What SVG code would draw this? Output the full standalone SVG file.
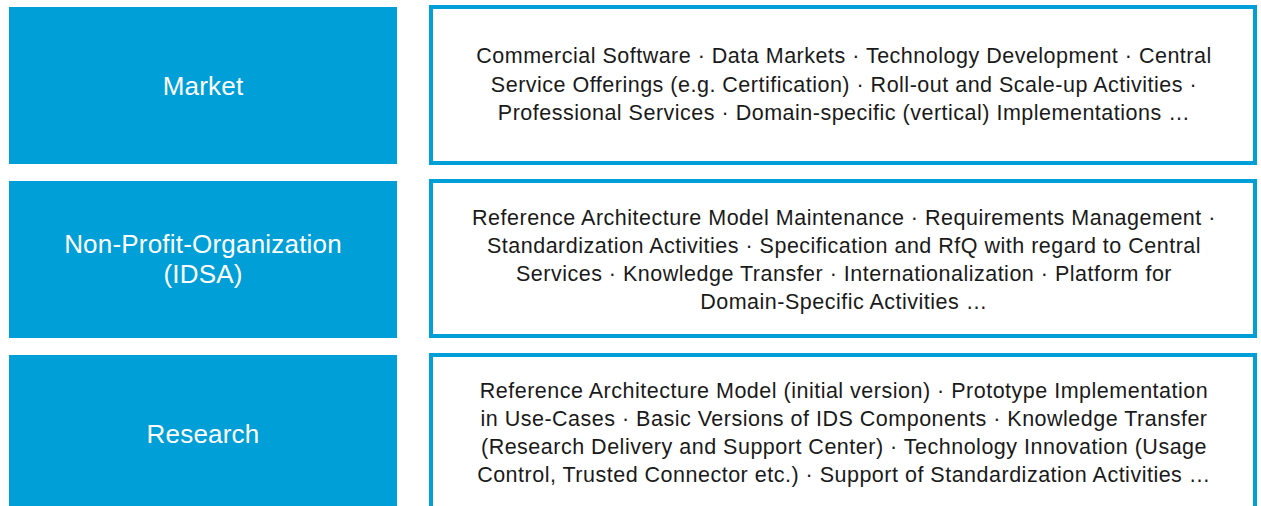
<svg xmlns="http://www.w3.org/2000/svg" width="1261" height="506" viewBox="0 0 1261 506">
<style>
.lbl{fill:#009fd8}
.box{fill:#fff;stroke:#009fd8;stroke-width:4}
.lt{font-family:"Liberation Sans",Arial,sans-serif;font-size:26px;letter-spacing:0.2px;fill:#fff;text-anchor:middle}
.rt{font-family:"Liberation Sans",Arial,sans-serif;font-size:21.5px;letter-spacing:0.5px;fill:#1a1a1a;text-anchor:middle}
</style>
<rect width="1261" height="506" fill="#fff"/>
<g id="market">
<rect class="lbl" x="9" y="7" width="388" height="157"/>
<text class="lt" x="203" y="95">Market</text>
</g>
<g id="market-items">
<rect class="box" x="431" y="7" width="824" height="156"/>
<text class="rt"><tspan x="844" y="63">Commercial Software · Data Markets · Technology Development · Central</tspan><tspan x="844" y="91.5">Service Offerings (e.g. Certification) · Roll-out and Scale-up Activities ·</tspan><tspan x="844" y="120">Professional Services · Domain-specific (vertical) Implementations …</tspan></text>
</g>
<g id="npo">
<rect class="lbl" x="9" y="181" width="388" height="157"/>
<text class="lt"><tspan x="203" y="253">Non-Profit-Organization</tspan><tspan x="203" y="283">(IDSA)</tspan></text>
</g>
<g id="npo-items">
<rect class="box" x="431" y="181" width="824" height="155"/>
<text class="rt"><tspan x="844" y="225">Reference Architecture Model Maintenance · Requirements Management ·</tspan><tspan x="844" y="253">Standardization Activities · Specification and RfQ with regard to Central</tspan><tspan x="844" y="281">Services · Knowledge Transfer · Internationalization · Platform for</tspan><tspan x="844" y="308.5">Domain-Specific Activities …</tspan></text>
</g>
<g id="research">
<rect class="lbl" x="9" y="355" width="388" height="160"/>
<text class="lt" x="203" y="443">Research</text>
</g>
<g id="research-items">
<rect class="box" x="431" y="355" width="824" height="160"/>
<text class="rt"><tspan x="844" y="398">Reference Architecture Model (initial version) · Prototype Implementation</tspan><tspan x="844" y="426">in Use-Cases · Basic Versions of IDS Components · Knowledge Transfer</tspan><tspan x="844" y="454">(Research Delivery and Support Center) · Technology Innovation (Usage</tspan><tspan x="844" y="482">Control, Trusted Connector etc.) · Support of Standardization Activities …</tspan></text>
</g>
<g id="connectors"/>
</svg>
